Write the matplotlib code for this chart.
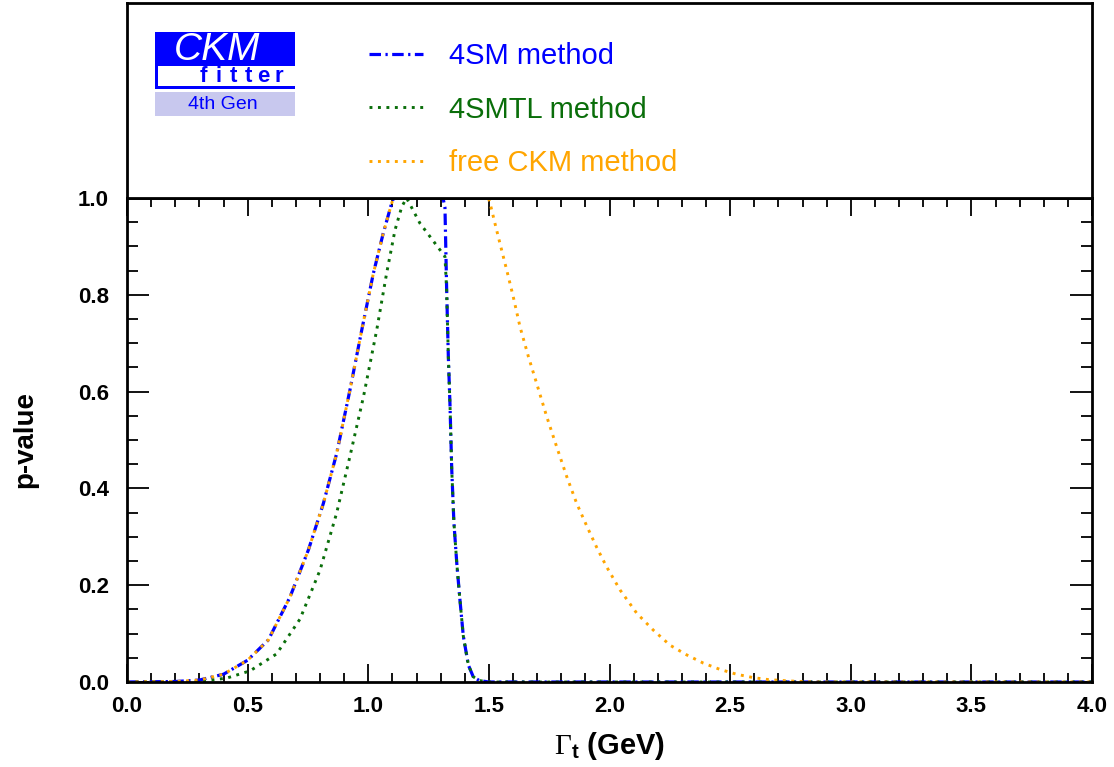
import numpy as np
import matplotlib.pyplot as plt
from matplotlib.patches import Rectangle

plt.rcParams['font.family'] = ['Liberation Sans', 'DejaVu Sans']
plt.rcParams['mathtext.fontset'] = 'custom'
plt.rcParams['mathtext.rm'] = 'Liberation Serif'
plt.rcParams['mathtext.bf'] = 'Liberation Sans:bold'

# --- data ---
x_4sm = [0.0, 0.2, 0.3, 0.4, 0.5, 0.586, 0.676, 0.752, 0.814, 0.869, 0.924, 0.973,
         1.021, 1.062, 1.097, 1.105, 1.31, 1.318, 1.325, 1.332, 1.339, 1.346, 1.355,
         1.367, 1.38, 1.394, 1.415, 1.435, 1.46, 1.5, 4.0]
y_4sm = [0.0, 0.001, 0.004, 0.016, 0.045, 0.087, 0.176, 0.273, 0.369, 0.472, 0.603, 0.727,
         0.844, 0.927, 0.989, 1.0, 1.0, 0.98, 0.81, 0.672, 0.57, 0.44, 0.33,
         0.245, 0.17, 0.095, 0.035, 0.011, 0.003, 0.0, 0.0]

x_4smtl = [0.0, 0.3, 0.413, 0.51, 0.62, 0.717, 0.80, 0.869, 0.924, 0.98, 1.035, 1.076,
           1.111, 1.139, 1.159, 1.214, 1.297, 1.318, 1.325, 1.332, 1.339, 1.346, 1.355,
           1.367, 1.38, 1.394, 1.415, 1.435, 1.46, 1.5, 4.0]
y_4smtl = [0.0, 0.001, 0.008, 0.023, 0.058, 0.13, 0.231, 0.349, 0.466, 0.589, 0.727, 0.844,
           0.934, 0.982, 1.0, 0.948, 0.893, 0.879, 0.81, 0.672, 0.57, 0.44, 0.33,
           0.245, 0.17, 0.095, 0.035, 0.011, 0.003, 0.0, 0.0]

x_free = [0.0, 0.2, 0.3, 0.4, 0.5, 0.586, 0.676, 0.752, 0.814, 0.869, 0.924, 0.973,
          1.021, 1.062, 1.097, 1.105, 1.498, 1.505, 1.525, 1.546, 1.574, 1.601, 1.629,
          1.664, 1.698, 1.74, 1.781, 1.823, 1.864, 1.906, 1.947, 1.988, 2.044, 2.113,
          2.182, 2.251, 2.32, 2.389, 2.458, 2.527, 2.596, 2.658, 2.75, 2.85, 4.0]
y_free = [0.0, 0.001, 0.004, 0.016, 0.045, 0.087, 0.176, 0.273, 0.369, 0.472, 0.603, 0.727,
          0.844, 0.927, 0.989, 1.0, 1.0, 0.989, 0.948, 0.906, 0.851, 0.796, 0.734,
          0.672, 0.617, 0.548, 0.486, 0.424, 0.369, 0.322, 0.278, 0.238, 0.19, 0.142,
          0.107, 0.076, 0.056, 0.039, 0.026, 0.016, 0.009, 0.005, 0.002, 0.0, 0.0]

labels = ['4SM method', '4SMTL method', 'free CKM method']
colors = ['#0000ff', '#0a6e0a', '#ffa500']

x_major = np.arange(0, 4.01, 0.5)
y_major = np.arange(0, 1.01, 0.2)

fig = plt.figure(figsize=(11.14, 7.67), dpi=100)
W, H = 1114.0, 767.0
ax = fig.add_axes([127 / W, 1 - 682 / H, 965 / W, 484 / H])
ax_top = fig.add_axes([127 / W, 1 - 198 / H, 965 / W, 195 / H])

l1, = ax.plot(x_4sm, y_4sm, color=colors[0], lw=2.3, linestyle=(0, (3.6, 1.4, 0.7, 1.4)))
l2, = ax.plot(x_4smtl, y_4smtl, color=colors[1], lw=2.1, linestyle=(0, (1, 1.9)))
l3, = ax.plot(x_free, y_free, color=colors[2], lw=2.1, linestyle=(0, (1, 1.9)))

ax.set_xlim(0, 4)
ax.set_ylim(0, 1)
ax.set_xticks(x_major)
ax.set_xticklabels([f'{v:.1f}' for v in x_major], fontweight='bold')
ax.set_xticks(np.arange(0, 4.001, 0.1), minor=True)
ax.set_yticks(y_major)
ax.set_yticklabels([f'{v:.1f}' for v in y_major], fontweight='bold')
ax.set_yticks(np.arange(0, 1.001, 0.05), minor=True)
ax.tick_params(axis='both', which='both', direction='in', top=True, right=True,
               width=1.3, labelsize=16)
ax.tick_params(axis='x', which='major', length=13, pad=10)
ax.tick_params(axis='x', which='minor', length=6.5)
ax.tick_params(axis='y', which='major', length=16, pad=13)
ax.tick_params(axis='y', which='minor', length=8)
for s in ax.spines.values():
    s.set_linewidth(2)

ax.set_xlabel(r'$\Gamma_{\mathbf{t}}$ (GeV)', fontsize=21, fontweight='bold')
ax.xaxis.set_label_coords(0.5, -0.10)
ax.set_ylabel('p-value', fontsize=20, fontweight='bold', va='center')
ax.yaxis.set_label_coords(-0.1057, 0.5)

# top panel: logo + legend
ax_top.set_xticks([])
ax_top.set_yticks([])
for s in ax_top.spines.values():
    s.set_linewidth(2)

def fx(px):
    return (px - 127) / 965.0

def fy(py):
    return (198 - py) / 195.0

def box(x0, y0, x1, y1, color):
    ax_top.add_patch(Rectangle((fx(x0), fy(y1)), fx(x1) - fx(x0), fy(y0) - fy(y1),
                               transform=ax_top.transAxes, facecolor=color, edgecolor='none'))

box(155, 32, 295, 89, '#0000ff')
box(158, 66, 295, 86, 'white')
box(155, 92, 295, 116, '#c8c8ee')
ax_top.text(fx(217), fy(50), 'CKM', transform=ax_top.transAxes, color='white', fontsize=28,
            fontstyle='italic', ha='center', va='center')
for xc, ch in zip(np.linspace(203, 279, 6), 'fitter'):
    ax_top.text(fx(xc), fy(77), ch, transform=ax_top.transAxes, color='#0000ff',
                fontsize=16, fontweight='bold', ha='center', va='center')
ax_top.text(fx(223), fy(104.5), '4th Gen', transform=ax_top.transAxes, color='#0000ff',
            fontsize=14, ha='center', va='center')

leg = ax_top.legend([l1, l2, l3], labels, loc='center left', bbox_to_anchor=(fx(369), fy(109.5)),
                    frameon=False, fontsize=21, handlelength=1.84, handletextpad=0.9,
                    labelspacing=0.87, borderpad=0, borderaxespad=0, labelcolor='linecolor')

fig.savefig('out.png', dpi=100)
